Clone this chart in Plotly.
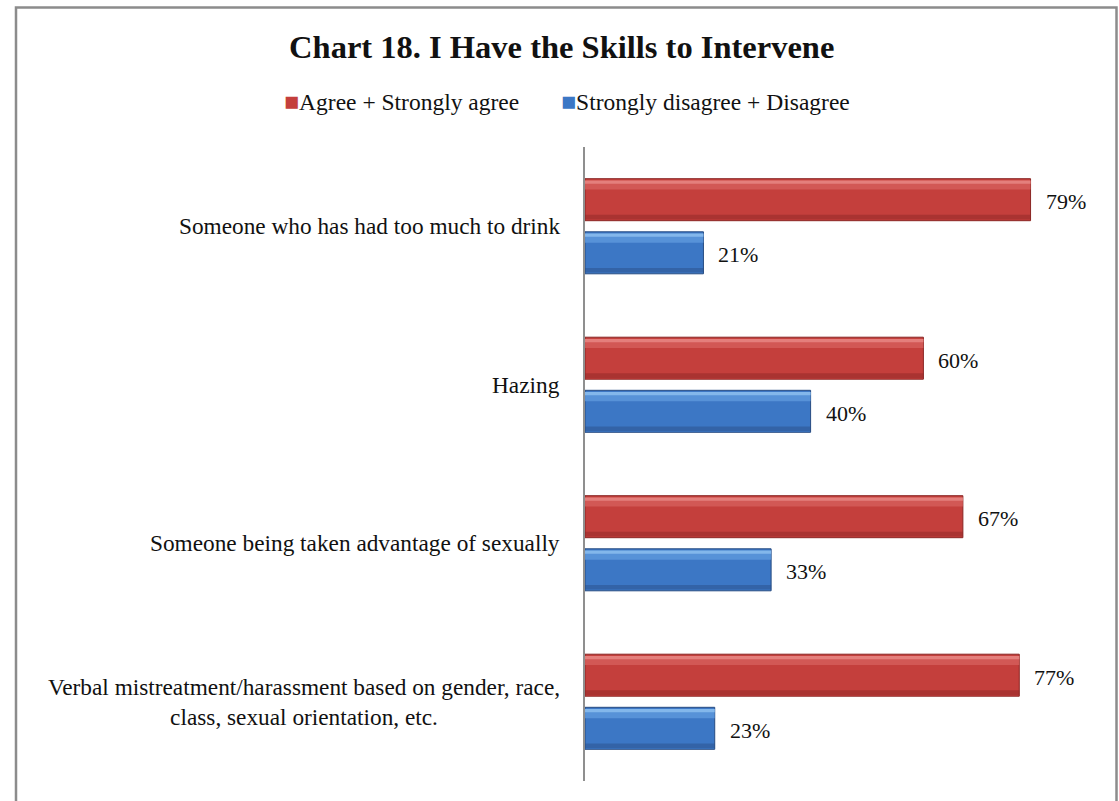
import plotly.graph_objects as go

# Survey items (top to bottom) and the share of respondents per answer group
categories = [
    "Someone who has had too much to drink",
    "Hazing",
    "Someone being taken advantage of sexually",
    "Verbal mistreatment/harassment based on gender, race,<br>class, sexual orientation, etc.",
]
agree = [79, 60, 67, 77]
disagree = [21, 40, 33, 23]
series_names = ["Agree + Strongly agree", "Strongly disagree + Disagree"]

W, H = 1119, 801
M_L, M_R, M_T, M_B = 585, 14, 147, 20
PX_PER_PCT = 5.64
x_max = (W - M_L - M_R) / PX_PER_PCT

FONT = "Liberation Serif"
TXT = "#111111"
pos = list(range(len(categories)))

BAR_W = 0.265
OFFS = [-0.300, 0.035]
palette = [
    dict(body="#C43F3C", hi1="#E88A86", hi2="#D65F5B", lo="#8A2624"),
    dict(body="#3C77C5", hi1="#8EC0F0", hi2="#5E98DC", lo="#274C82"),
]

fig = go.Figure()
for vals, name, off, col in zip([agree, disagree], series_names, OFFS, palette):
    # main bar body
    fig.add_trace(go.Bar(
        y=pos, x=vals, orientation="h", name=name,
        width=BAR_W, offset=off,
        marker=dict(color=col["body"], line=dict(color=col["lo"], width=1)),
        hoverinfo="x+name",
    ))
    # bevel shading: soft light band near the top edge, dark band at the bottom
    for frac_off, frac_w, color, op in [
        (0.04, 0.22, col["hi2"], 0.8),
        (0.04, 0.08, col["hi1"], 0.8),
        (0.86, 0.11, col["lo"], 0.45),
    ]:
        fig.add_trace(go.Bar(
            y=pos, x=vals, orientation="h", showlegend=False, hoverinfo="skip",
            width=BAR_W * frac_w, offset=off + BAR_W * frac_off,
            marker=dict(color=color, opacity=op, line=dict(width=0)),
        ))

annotations = []
# value labels just past the end of each bar
for vals, off in zip([agree, disagree], OFFS):
    for p, v in zip(pos, vals):
        annotations.append(dict(
            x=v, y=p + off + BAR_W / 2, xref="x", yref="y",
            text=f"{v}%", showarrow=False, xanchor="left", yanchor="middle",
            xshift=13, yshift=-2, font=dict(family=FONT, size=22, color=TXT),
        ))
# category labels, centred lines, right-aligned against the axis
pw, ph = W - M_L - M_R, H - M_T - M_B
for p, c in zip(pos, categories):
    annotations.append(dict(
        x=-23 / pw, y=p, xref="paper", yref="y",
        text=c, showarrow=False, xanchor="right", yanchor="middle",
        align="center", font=dict(family=FONT, size=23.3, color=TXT),
    ))
# legend row: coloured square followed by the series name
legend_x = [282, 559]
for name, col, lx in zip(series_names, palette, legend_x):
    annotations.append(dict(
        x=(lx - M_L) / pw, y=(H - M_B - 101) / ph, xref="paper", yref="paper",
        text=f"<span style='color:{col['body']};font-size:25px'>■</span>{name}",
        showarrow=False, xanchor="left", yanchor="middle",
        font=dict(family=FONT, size=23.5, color=TXT),
    ))


# outer frame around the whole chart
def px_x(px):
    return (px - M_L) / pw


def px_y(py):
    return (H - M_B - py) / ph


fig.update_layout(
    width=W, height=H,
    margin=dict(l=M_L, r=M_R, t=M_T, b=M_B),
    paper_bgcolor="white", plot_bgcolor="white",
    barmode="overlay",
    showlegend=False,
    title=dict(
        text="<b>Chart 18. I Have the Skills to Intervene</b>",
        x=0.502, xref="container", xanchor="center",
        y=1 - 47 / H, yref="container", yanchor="middle",
        font=dict(family=FONT, size=32.5, color=TXT),
    ),
    xaxis=dict(range=[0, x_max], visible=False, fixedrange=True),
    yaxis=dict(
        range=[len(categories) - 0.5, -0.5],
        showticklabels=False, showgrid=False, zeroline=False,
        showline=True, linecolor="#8f8f8f", linewidth=1.5, ticks="",
        fixedrange=True,
    ),
    annotations=annotations,
    shapes=[dict(
        type="rect", xref="paper", yref="paper",
        x0=px_x(16), x1=px_x(1116.5), y0=px_y(806), y1=px_y(7.5),
        line=dict(color="#8c8c8c", width=2.5), fillcolor="rgba(0,0,0,0)",
        layer="above",
    )],
)

fig.write_html("out.html")
